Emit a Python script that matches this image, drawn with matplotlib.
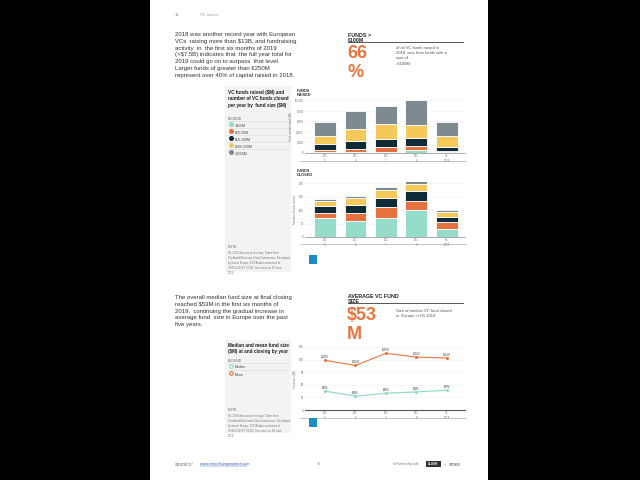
import matplotlib
matplotlib.use("Agg")
import matplotlib.pyplot as plt
from matplotlib.patches import Rectangle
from matplotlib.lines import Line2D

plt.rcParams['font.family'] = ['Liberation Sans', 'DejaVu Sans']

# ---------------- data ----------------
years = ["201\n5", "201\n6", "201\n7", "201\n8", "H1\n2019"]
size_bands = ["<$25M", "$25-50M", "$50-100M", "$100-250M", ">$250M"]
band_colors = ["#95dccb", "#e5723e", "#0f2b38", "#f4c95a", "#7d8b90"]

# capital raised ($M) per band, per year
raised_lt25 = [250, 250, 280, 560, 190]
raised_25_50 = [320, 560, 800, 690, 250]
raised_50_100 = [1120, 1500, 1500, 1630, 690]
raised_100_250 = [1500, 2240, 2800, 2430, 2070]
raised_gt250 = [2710, 3350, 3490, 4690, 2570]
raised_ticks = [0, 2000, 4000, 6000, 8000, 10000]

# number of funds closed per band, per year
closed_lt25 = [70, 60, 70, 100, 30]
closed_25_50 = [21, 30, 42, 35, 25]
closed_50_100 = [24, 30, 32, 36, 18]
closed_100_250 = [21, 25, 30, 28, 20]
closed_gt250 = [7, 8, 11, 14, 7]
closed_ticks = [0, 50, 100, 150, 200]

# median / mean fund size ($M)
median_size = [45, 33, 40, 43, 47]
mean_size = [118, 106, 135, 126, 124]
size_ticks = [0, 30, 60, 90, 120, 150]

W, H = 640, 480
fig = plt.figure(figsize=(6.4, 4.8), dpi=100, facecolor="black")

def fx(x): return x / W
def fy(y): return 1 - y / H

def rect(x0, y0, x1, y1, color, z=0):
    fig.patches.append(Rectangle((fx(x0), fy(y1)), (x1 - x0) / W, (y1 - y0) / H,
                                 transform=fig.transFigure, facecolor=color,
                                 edgecolor="none", zorder=z))

def hline(x0, x1, y, color="#999999", lw=0.5):
    fig.lines.append(Line2D([fx(x0), fx(x1)], [fy(y), fy(y)], transform=fig.transFigure,
                            color=color, lw=lw, zorder=2))

def txt(x, y, s, **kw):
    kw.setdefault("va", "top")
    kw.setdefault("ha", "left")
    fig.text(fx(x), fy(y), s, **kw)

def axes_px(x0, y0, x1, y1):
    ax = fig.add_axes([fx(x0), fy(y1), (x1 - x0) / W, (y1 - y0) / H])
    ax.set_zorder(1)
    return ax

# page
rect(150, 0, 488, 480, "white", z=-2)

# header
txt(175, 13, "14", fontsize=3, color="#999999")
txt(200, 13, "VC sector", fontsize=3, color="#999999")

orange = "#e8743b"
para1 = ("2018 was another record year with European\n"
         "VCs  raising more than $13B, and fundraising\n"
         "activity  in  the first six months of 2019\n"
         "(>$7.5B) indicates that  the full year total for\n"
         "2019 could go on to surpass  that level.\n"
         "Larger funds of greater than €250M\n"
         "represent over 40% of capital raised in 2018.")
txt(175, 32, para1, fontsize=4.3, color="#333333", linespacing=1.45)

txt(348, 33, "FUNDS >\n€100M", fontsize=3.8, fontweight="bold", color="#222222", linespacing=1.1)
hline(348, 463, 41.5, color="#555555", lw=0.7)
txt(347, 45, "66\n%", fontsize=13, fontweight="bold", color=orange, linespacing=1.15)
txt(396, 46, "of all VC funds raised in\n2018  was from funds with a\nsize of\n>€100M.",
    fontsize=3, color="#555555", linespacing=1.4)

# ---------- left panel 1 ----------
rect(225, 86, 291, 272, "#f3f3f3", z=-1)
txt(228, 90, "VC funds raised ($M) and\nnumber of VC funds closed\nper year by  fund size ($M)",
    fontsize=3.3, fontweight="bold", color="#222222", linespacing=1.35)
txt(228, 117, "LEGEND", fontsize=2.5, color="#666666")
ly = 124
for lab, col in zip(size_bands, band_colors):
    hline(228, 288, ly - 3.5, color="#dddddd", lw=0.4)
    fig.lines.append(Line2D([fx(231)], [fy(ly)], transform=fig.transFigure, marker="o",
                            markersize=2.6, markerfacecolor=col, markeredgecolor=col, lw=0))
    txt(235, ly + 1.5, lab, fontsize=2.5, color="#444444", va="center")
    ly += 7
txt(228, 245, "NOTE", fontsize=2.5, color="#666666")
txt(228, 251, "H1 2019 data are preliminary. Taken from\nPitchbook/Dealroom Data Connections. Developed\nby Invest Europe, EVCA data connected at\n30/6/2019 (FY 2018). See notes on 30 June\n2019.",
    fontsize=2.0, color="#777777", linespacing=1.3)

# ---------- bar chart: funds raised ----------
xpos = list(range(len(years)))
txt(297, 89, "FUNDS\nRAISED", fontsize=2.8, fontweight="bold", color="#333333", linespacing=1.1)
ax1 = axes_px(305, 100, 465, 153)
bottoms = [0] * 5
for vals, col in zip([raised_lt25, raised_25_50, raised_50_100, raised_100_250, raised_gt250], band_colors):
    ax1.bar(xpos, vals, bottom=bottoms, width=0.72, color=col, edgecolor="white", linewidth=0.6, zorder=3)
    bottoms = [b + v for b, v in zip(bottoms, vals)]
ax1.set_ylim(0, 10000)
ax1.set_xlim(-0.66, 4.6)
ax1.set_yticks(raised_ticks)
ax1.set_yticklabels([f"{t:,}" for t in raised_ticks])
ax1.set_xticks(xpos)
ax1.set_xticklabels(years)
ax1.set_ylabel("Total capital raised ($M)", fontsize=2, color="#777777", labelpad=1)

# ---------- bar chart: funds closed ----------
txt(297, 169, "FUNDS\nCLOSED", fontsize=2.8, fontweight="bold", color="#333333", linespacing=1.1)
ax2 = axes_px(305, 182, 465, 237)
bottoms = [0] * 5
for vals, col in zip([closed_lt25, closed_25_50, closed_50_100, closed_100_250, closed_gt250], band_colors):
    ax2.bar(xpos, vals, bottom=bottoms, width=0.72, color=col, edgecolor="white", linewidth=0.6, zorder=3)
    bottoms = [b + v for b, v in zip(bottoms, vals)]
ax2.set_ylim(0, 205)
ax2.set_xlim(-0.66, 4.6)
ax2.set_yticks(closed_ticks)
ax2.set_xticks(xpos)
ax2.set_xticklabels(years)
ax2.set_ylabel("Number of funds closed", fontsize=2, color="#777777", labelpad=1)

for ax in (ax1, ax2):
    for s in ("top", "right", "left"):
        ax.spines[s].set_visible(False)
    ax.spines["bottom"].set_color("#888888")
    ax.spines["bottom"].set_linewidth(0.5)
    ax.tick_params(axis="both", labelsize=2, colors="#666666", length=0, pad=1)
    ax.grid(axis="y", color="#eeeeee", lw=0.4, zorder=0)
    ax.set_facecolor("white")

hline(300, 466, 161, color="#aaaaaa", lw=0.5)
hline(300, 466, 244, color="#aaaaaa", lw=0.5)
rect(309, 255, 317, 264, "#1b8cc4", z=3)
rect(309, 418, 317, 427, "#1b8cc4", z=3)

# ---------- section 2 ----------
para2 = ("The overall median fund size at final closing\n"
         "reached $53M in the first six months of\n"
         "2019,  continuing the gradual increase in\n"
         "average fund  size in Europe over the past\n"
         "five years.")
txt(175, 295, para2, fontsize=4.3, color="#333333", linespacing=1.45)

txt(348, 294, "AVERAGE VC FUND\nSIZE", fontsize=3.8, fontweight="bold", color="#222222", linespacing=1.1)
hline(348, 463, 303, color="#555555", lw=0.7)
txt(347, 307, "$53\nM", fontsize=13, fontweight="bold", color=orange, linespacing=1.15)
txt(396, 309, "Size of median VC fund closed\nin  Europe in H1 2019",
    fontsize=3, color="#555555", linespacing=1.4)

rect(225, 340, 291, 433, "#f3f3f3", z=-1)
txt(228, 343, "Median and mean fund size\n($M) at and closing by year",
    fontsize=3.3, fontweight="bold", color="#222222", linespacing=1.35)
txt(228, 359, "LEGEND", fontsize=2.5, color="#666666")
ly = 366
for lab, col in zip(["Median", "Mean"], [band_colors[0], orange]):
    hline(228, 288, ly - 3.5, color="#dddddd", lw=0.4)
    fig.lines.append(Line2D([fx(231)], [fy(ly)], transform=fig.transFigure, marker="o",
                            markersize=2.6, markerfacecolor="none", markeredgecolor=col,
                            markeredgewidth=0.8, lw=0))
    txt(235, ly + 1.5, lab, fontsize=2.5, color="#444444", va="center")
    ly += 7
txt(228, 408, "NOTE", fontsize=2.5, color="#666666")
txt(228, 414, "H1 2019 data are preliminary. Taken from\nPitchbook/Dealroom Data Connections. Developed\nby Invest Europe, EVCA data connected at\n30/6/2019 (FY 2018). See notes on 30 June\n2019.",
    fontsize=2.0, color="#777777", linespacing=1.3)

ax3 = axes_px(305, 347, 465, 410)
ax3.plot(xpos, mean_size, color=orange, lw=0.8, marker="o", markersize=1.2, zorder=3)
ax3.plot(xpos, median_size, color="#8fd6c4", lw=0.8, marker="o", markersize=1.2, zorder=3)
for x, v in zip(xpos, mean_size):
    ax3.annotate(f"${v}M", (x, v), xytext=(0, 2), textcoords="offset points",
                 ha="center", fontsize=1.8, color="#444444")
for x, v in zip(xpos, median_size):
    ax3.annotate(f"${v}M", (x, v), xytext=(0, 2), textcoords="offset points",
                 ha="center", fontsize=1.8, color="#444444")
ax3.set_ylim(0, 150)
ax3.set_xlim(-0.66, 4.6)
ax3.set_yticks(size_ticks)
ax3.set_xticks(xpos)
ax3.set_xticklabels(years)
ax3.set_ylabel("Fund size ($M)", fontsize=2, color="#777777", labelpad=1)
for s in ("top", "right", "left"):
    ax3.spines[s].set_visible(False)
ax3.spines["bottom"].set_color("#555555")
ax3.spines["bottom"].set_linewidth(0.8)
ax3.tick_params(axis="both", labelsize=2, colors="#666666", length=0, pad=1)
ax3.grid(axis="y", color="#eeeeee", lw=0.4, zorder=0)
hline(300, 466, 418, color="#aaaaaa", lw=0.5)

# ---------- footer ----------
txt(175, 464, "atomico°", fontsize=3.5, color="#777777", va="center")
txt(200, 464, "www.stateofeuropeantech.com", fontsize=2.6, color="#2a4fb5", va="center")
hline(200, 247, 466, color="#2a4fb5", lw=0.3)
txt(319, 464, "65", fontsize=2.8, color="#999999", va="center", ha="center")
txt(393, 464, "In Partnership with", fontsize=2.2, color="#777777", va="center")
rect(426, 461, 441, 467, "#333333", z=3)
txt(433.5, 464, "SLUSH", fontsize=2.2, color="white", va="center", ha="center", fontweight="bold", zorder=4)
txt(444, 464, "×", fontsize=2.5, color="#777777", va="center")
txt(449, 464, "amex", fontsize=3.5, color="#555555", va="center")

fig.savefig("out.png", dpi=100, facecolor=fig.get_facecolor())
